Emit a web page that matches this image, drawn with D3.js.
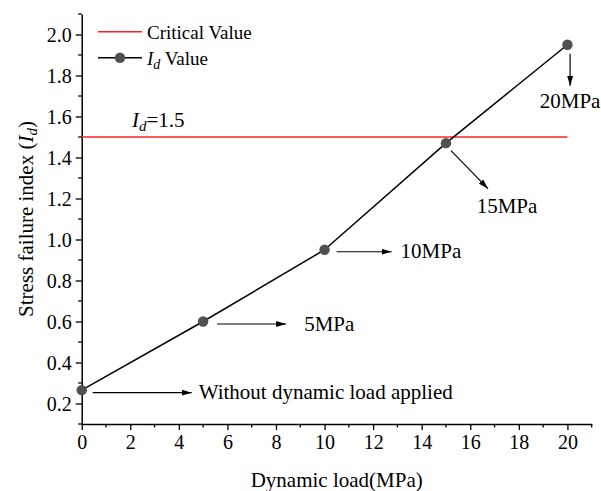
<!DOCTYPE html>
<html>
<head>
<meta charset="utf-8">
<script src="https://cdn.jsdelivr.net/npm/d3@7/dist/d3.min.js"></script>
<style>
  html, body { margin: 0; padding: 0; background: #fff; }
  svg { display: block; font-family: "Liberation Serif", "Times New Roman", serif; }
</style>
</head>
<body>
<svg id="chart" width="601" height="491"></svg>
<script>
// Dynamic load (MPa) and the resulting stress failure index I_d
const loads = [0, 5, 10, 15, 20];
const idValues = [0.265, 0.60, 0.95, 1.47, 1.95];
const criticalValue = 1.5;
const pointLabels = ["Without dynamic load applied", "5MPa", "10MPa", "15MPa", "20MPa"];
const xTickValues = [0, 2, 4, 6, 8, 10, 12, 14, 16, 18, 20];
const yTickValues = [0.2, 0.4, 0.6, 0.8, 1.0, 1.2, 1.4, 1.6, 1.8, 2.0];

const svg = d3.select("#chart");
const plotLeft = 81.7, plotRight = 591.7, plotTop = 14, plotBottom = 424;

const x = d3.scaleLinear().domain([0, 21]).range([plotLeft, plotRight]);
const y = d3.scaleLinear().domain([0.1, 2.1]).range([plotBottom, plotTop]);

// arrowhead marker
svg.append("defs").append("marker")
  .attr("id", "arrow")
  .attr("viewBox", "0 0 10 6")
  .attr("refX", 10).attr("refY", 3)
  .attr("markerWidth", 10).attr("markerHeight", 6)
  .attr("markerUnits", "userSpaceOnUse")
  .attr("orient", "auto")
  .append("path").attr("d", "M0,0 L10,3 L0,6 Z").attr("fill", "#000");

// axes
const xAxis = svg.append("g").attr("transform", `translate(0,${plotBottom})`)
  .call(d3.axisBottom(x).tickValues(xTickValues).tickFormat(d3.format("d")).tickSize(6).tickSizeOuter(0));
const yAxis = svg.append("g").attr("transform", `translate(${plotLeft},0)`)
  .call(d3.axisLeft(y).tickValues(yTickValues).tickFormat(d3.format(".1f")).tickSize(6).tickSizeOuter(0));

[xAxis, yAxis].forEach(g => {
  g.select(".domain").attr("stroke", "#000").attr("stroke-width", 1.5);
  g.selectAll(".tick line").attr("stroke", "#000").attr("stroke-width", 1.3);
  g.selectAll(".tick text").attr("fill", "#000").attr("font-size", 20)
    .attr("font-family", "Liberation Serif, serif");
});
xAxis.selectAll(".tick text").attr("y", 11);
yAxis.selectAll(".tick text").attr("x", -10).attr("dy", "0.34em");

// minor ticks
xAxis.selectAll(".minor").data(d3.range(1, 22, 2)).enter().append("line")
  .attr("x1", d => x(d)).attr("x2", d => x(d)).attr("y1", 0).attr("y2", 3.5)
  .attr("stroke", "#000").attr("stroke-width", 1.3);
yAxis.selectAll(".minor").data(d3.range(0.1, 2.15, 0.2)).enter().append("line")
  .attr("y1", d => y(d)).attr("y2", d => y(d)).attr("x1", 0).attr("x2", -3.5)
  .attr("stroke", "#000").attr("stroke-width", 1.3);

// axis titles
svg.append("text").attr("x", (plotLeft + plotRight) / 2).attr("y", 487)
  .attr("text-anchor", "middle").attr("font-size", 21).text("Dynamic load(MPa)");

const yTitle = svg.append("text")
  .attr("transform", `translate(33,${(plotTop + plotBottom) / 2}) rotate(-90)`)
  .attr("text-anchor", "middle").attr("font-size", 21);
yTitle.append("tspan").text("Stress failure index (");
yTitle.append("tspan").attr("font-style", "italic").text("I");
yTitle.append("tspan").attr("font-style", "italic").attr("font-size", 15).attr("dy", 4).text("d");
yTitle.append("tspan").attr("dy", -4).text(")");

// critical value line
svg.append("line")
  .attr("x1", x(0)).attr("x2", x(20))
  .attr("y1", y(criticalValue)).attr("y2", y(criticalValue))
  .attr("stroke", "#f22").attr("stroke-width", 1.6);

const critLabel = svg.append("text").attr("x", x(2.07)).attr("y", y(criticalValue) - 10.5)
  .attr("font-size", 21);
critLabel.append("tspan").attr("font-style", "italic").text("I");
critLabel.append("tspan").attr("font-style", "italic").attr("font-size", 15).attr("dy", 4).text("d");
critLabel.append("tspan").attr("dy", -4).text("=" + criticalValue.toFixed(1));

// I_d line and points
const pts = loads.map((l, i) => ({ load: l, value: idValues[i], label: pointLabels[i] }));
svg.append("path").datum(pts)
  .attr("d", d3.line().x(d => x(d.load)).y(d => y(d.value)))
  .attr("fill", "none").attr("stroke", "#000").attr("stroke-width", 1.5);
svg.selectAll(".pt").data(pts).enter().append("circle")
  .attr("cx", d => x(d.load)).attr("cy", d => y(d.value)).attr("r", 5.2)
  .attr("fill", "#505050");

// annotation arrows (offsets from each point) and labels
const arrowLayout = [
  { dx1: 11, dy1: 2.5, dx2: 110, dy2: 2.5, tx: 117, ty: 9, anchor: "start" },
  { dx1: 14, dy1: 2.5, dx2: 83, dy2: 2.5, tx: 101, ty: 9, anchor: "start" },
  { dx1: 12, dy1: 2, dx2: 67, dy2: 2, tx: 76, ty: 8.5, anchor: "start" },
  { dx1: 5, dy1: 7.5, dx2: 42, dy2: 45.5, tx: 61, ty: 69.5, anchor: "middle" },
  { dx1: 2.7, dy1: 9, dx2: 2.7, dy2: 41, tx: 2.7, ty: 63, anchor: "middle" }
];
pts.forEach((p, i) => {
  const a = arrowLayout[i];
  const px = x(p.load), py = y(p.value);
  svg.append("line")
    .attr("x1", px + a.dx1).attr("y1", py + a.dy1)
    .attr("x2", px + a.dx2).attr("y2", py + a.dy2)
    .attr("stroke", "#000").attr("stroke-width", 1.2)
    .attr("marker-end", "url(#arrow)");
  svg.append("text").attr("x", px + a.tx).attr("y", py + a.ty)
    .attr("text-anchor", a.anchor).attr("font-size", 21).text(p.label);
});

// legend
const lg = svg.append("g");
lg.append("line").attr("x1", 98).attr("x2", 142).attr("y1", 31.7).attr("y2", 31.7)
  .attr("stroke", "#f22").attr("stroke-width", 1.6);
lg.append("text").attr("x", 147).attr("y", 38.5).attr("font-size", 19).text("Critical Value");
lg.append("line").attr("x1", 98).attr("x2", 142).attr("y1", 57.7).attr("y2", 57.7)
  .attr("stroke", "#000").attr("stroke-width", 1.5);
lg.append("circle").attr("cx", 120).attr("cy", 57.7).attr("r", 5.2).attr("fill", "#505050");
const lgt = lg.append("text").attr("x", 147).attr("y", 64.5).attr("font-size", 19);
lgt.append("tspan").attr("font-style", "italic").text("I");
lgt.append("tspan").attr("font-style", "italic").attr("font-size", 14).attr("dy", 4).text("d");
lgt.append("tspan").attr("dy", -4).text(" Value");
</script>
</body>
</html>
